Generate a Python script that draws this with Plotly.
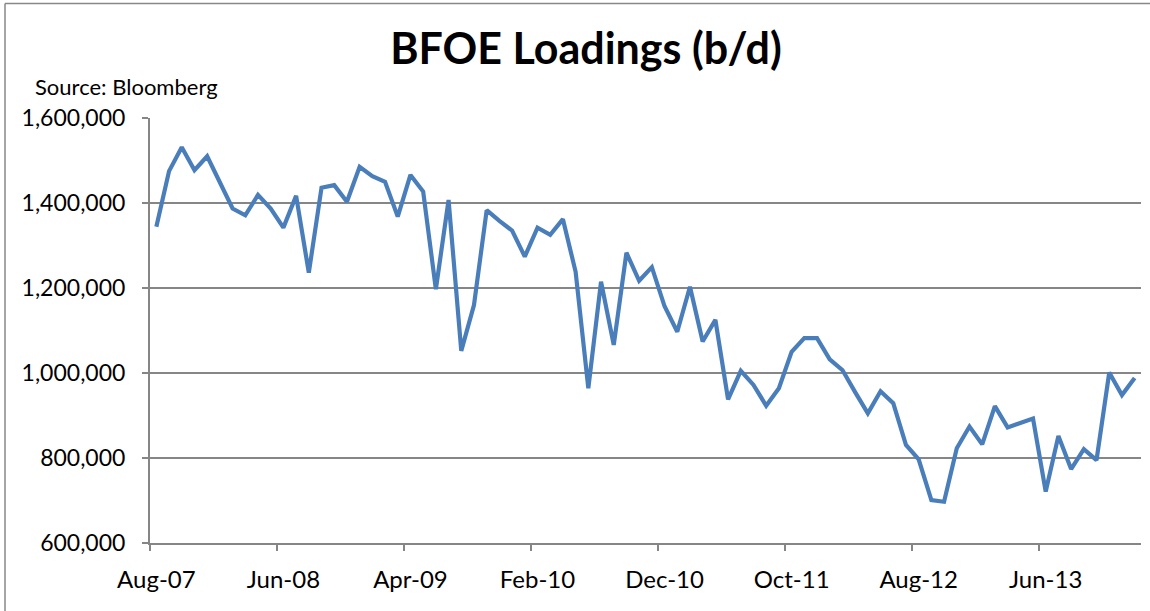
import numpy as np
import pandas as pd
import plotly.graph_objects as go

# Monthly categories Aug-07 .. Jan-14
months = pd.date_range("2007-08-01", "2014-01-01", freq="MS").strftime("%b-%y").tolist()

loadings = [
    1344000, 1475000, 1531000, 1477000, 1510000, 1448000, 1387000, 1371000, 1419000, 1387000,
    1342000, 1417000, 1236000, 1436000, 1442000, 1403000, 1485000, 1463000, 1450000, 1368000,
    1466000, 1427000, 1197000, 1407000, 1052000, 1160000, 1383000, 1358000, 1335000, 1274000,
    1342000, 1325000, 1362000, 1238000, 964000, 1215000, 1066000, 1283000, 1217000, 1249000,
    1157000, 1097000, 1203000, 1074000, 1125000, 938000, 1005000, 972000, 923000, 964000,
    1050000, 1082000, 1082000, 1032000, 1007000, 955000, 905000, 957000, 929000, 831000,
    797000, 701000, 697000, 823000, 874000, 832000, 922000, 872000, 882000, 893000,
    721000, 852000, 774000, 821000, 795000, 1001000, 948000, 988000,
]

tick_labels = ["Aug-07", "Jun-08", "Apr-09", "Feb-10", "Dec-10", "Oct-11", "Aug-12", "Jun-13"]

x = np.arange(len(months))
label_pos = [months.index(t) for t in tick_labels]
tick_marks = [p - 0.5 for p in label_pos]

FONT = "Lato"
GRID = "#868686"

# body margin is removed by post_script, so the figure fills the window from (0,0)
W, H = 1150, 611
L, R, T, B = 150, 9, 118, 68
pw, ph = W - L - R, H - T - B


def px(sx):
    return (sx - L) / pw


def py(sy):
    return (H - B - sy) / ph


fig = go.Figure()
fig.add_trace(go.Scatter(
    x=x, y=loadings, mode="lines",
    line=dict(color="#4A7EBB", width=4.2),
    customdata=months, hovertemplate="%{customdata}: %{y:,}<extra></extra>",
    showlegend=False,
))

fig.update_layout(
    width=W, height=H,
    margin=dict(l=L, r=R, t=T, b=B),
    paper_bgcolor="white", plot_bgcolor="white",
    font=dict(family=FONT, color="black", size=23),
    title=dict(text="<b>BFOE Loadings (b/d)</b>", font=dict(family=FONT, size=43, color="black"),
               x=586 / W, xanchor="center", xref="container",
               y=1 - 49 / H, yanchor="middle", yref="container"),
    xaxis=dict(
        range=[-0.5, len(months) - 0.5],
        tickmode="array", tickvals=label_pos, ticktext=tick_labels,
        ticks="", showgrid=False, zeroline=False,
        showline=True, linecolor=GRID, linewidth=2,
        tickfont=dict(family=FONT, size=24),
        ticklabelstandoff=14,
        minor=dict(tickmode="array", tickvals=tick_marks, ticks="outside", ticklen=6,
                   tickcolor=GRID, tickwidth=1.5, showgrid=False),
    ),
    yaxis=dict(
        range=[600000, 1600000], tickmode="linear", tick0=600000, dtick=200000,
        tickformat=",", showgrid=True, gridcolor=GRID, gridwidth=1.5,
        zeroline=False, showline=True, linecolor=GRID, linewidth=2,
        ticks="outside", ticklen=6, tickcolor=GRID, tickwidth=1.5,
        tickfont=dict(family=FONT, size=23),
        ticklabelstandoff=12,
    ),
    annotations=[dict(
        text="Source: Bloomberg", xref="paper", yref="paper",
        x=px(33), y=py(86), xanchor="left", yanchor="middle",
        showarrow=False, font=dict(family=FONT, size=22, color="black"),
    )],
    shapes=[
        dict(type="line", xref="paper", yref="paper",
             x0=px(5), x1=px(5), y0=py(640), y1=py(3.5),
             line=dict(color="#888888", width=1.5)),
        dict(type="line", xref="paper", yref="paper",
             x0=px(5), x1=px(1180), y0=py(3.5), y1=py(3.5),
             line=dict(color="#888888", width=1.5)),
    ],
)

fig.write_html(
    "out.html",
    config={"displayModeBar": False},
    post_script="document.body.style.margin='0';document.body.style.overflow='hidden';",
)
